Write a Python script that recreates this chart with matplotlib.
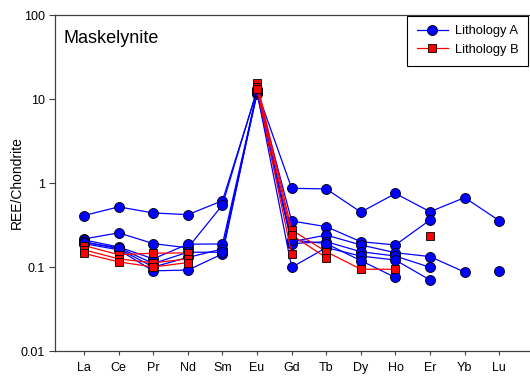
import numpy as np
import matplotlib
matplotlib.use("Agg")
import matplotlib.pyplot as plt

plt.rcParams['font.family'] = ['Liberation Sans', 'DejaVu Sans']

elements = ["La", "Ce", "Pr", "Nd", "Sm", "Eu", "Gd", "Tb", "Dy", "Ho", "Er", "Yb", "Lu"]
nan = np.nan

# Lithology A (blue circles)
lith_a = [
    [0.41, 0.52, 0.44, 0.42, 0.615, 12.5, 0.865, 0.85, 0.45, 0.75, 0.455, 0.67, 0.356],
    [0.216, 0.255, 0.19, 0.169, 0.547, 13.0, 0.353, 0.302, 0.20, 0.183, 0.363, nan, nan],
    [0.21, 0.173, 0.125, 0.187, 0.188, 12.0, 0.20, 0.24, 0.183, 0.148, 0.133, 0.087, nan],
    [0.20, 0.165, 0.10, 0.13, 0.164, 11.5, 0.19, 0.20, 0.152, 0.135, 0.099, nan, 0.09],
    [0.19, 0.16, 0.09, 0.092, 0.143, 12.0, 0.099, 0.17, 0.135, 0.121, 0.07, nan, nan],
    [0.195, 0.17, 0.11, 0.15, 0.15, 12.5, 0.21, 0.19, 0.119, 0.075, nan, nan, nan],
]

# Lithology B (red squares)
lith_b = [
    [0.18, 0.14, 0.146, 0.147, nan, 15.5, 0.276, 0.152, 0.094, 0.094, nan, nan, nan],
    [0.16, 0.125, 0.112, 0.125, nan, 14.0, 0.24, 0.129, nan, nan, 0.236, nan, nan],
    [0.145, 0.115, 0.10, 0.113, nan, 13.2, 0.143, nan, nan, nan, nan, nan, nan],
]

fig = plt.figure(figsize=(5.30, 3.77), dpi=100)
ax = fig.add_axes([55 / 530, 26 / 377, 474 / 530, 336 / 377])

x = np.arange(len(elements))
for i, row in enumerate(lith_a):
    ax.plot(x, row, color="blue", lw=0.9, marker="o", ms=7.2,
            mfc="blue", mec="black", mew=0.6,
            label="Lithology A" if i == 0 else None)
for i, row in enumerate(lith_b):
    ax.plot(x, row, color="red", lw=0.9, marker="s", ms=6.2,
            mfc="red", mec="black", mew=0.6,
            label="Lithology B" if i == 0 else None)

ax.set_yscale("log")
ax.set_ylim(0.01, 100)
ax.set_xlim(-0.84, 12.86)
ax.set_yticks([0.01, 0.1, 1, 10, 100])
ax.set_yticklabels(["0.01", "0.1", "1", "10", "100"])
ax.yaxis.set_minor_locator(matplotlib.ticker.NullLocator())
ax.set_xticks(x)
ax.set_xticklabels(elements)
ax.tick_params(axis="both", labelsize=9, direction="out", length=4,
               width=0.8, color="#404040")
ax.tick_params(axis="x", length=3, pad=5)
ax.set_ylabel("REE/Chondrite", fontsize=10)
ax.yaxis.set_label_coords(-0.066, 0.5)

for s in ["left", "bottom", "top"]:
    ax.spines[s].set_color("#404040")
    ax.spines[s].set_linewidth(0.9)
ax.spines["right"].set_visible(False)

ax.text(0.017, 0.955, "Maskelynite", transform=ax.transAxes,
        fontsize=13, va="top", ha="left")

leg = ax.legend(loc="upper right", fontsize=9.3, fancybox=False,
                edgecolor="black", framealpha=1, borderaxespad=0.05,
                handlelength=2.4, handletextpad=0.55, borderpad=0.75,
                labelspacing=0.5)
leg.get_frame().set_linewidth(0.8)

fig.savefig("out.png", dpi=100)
